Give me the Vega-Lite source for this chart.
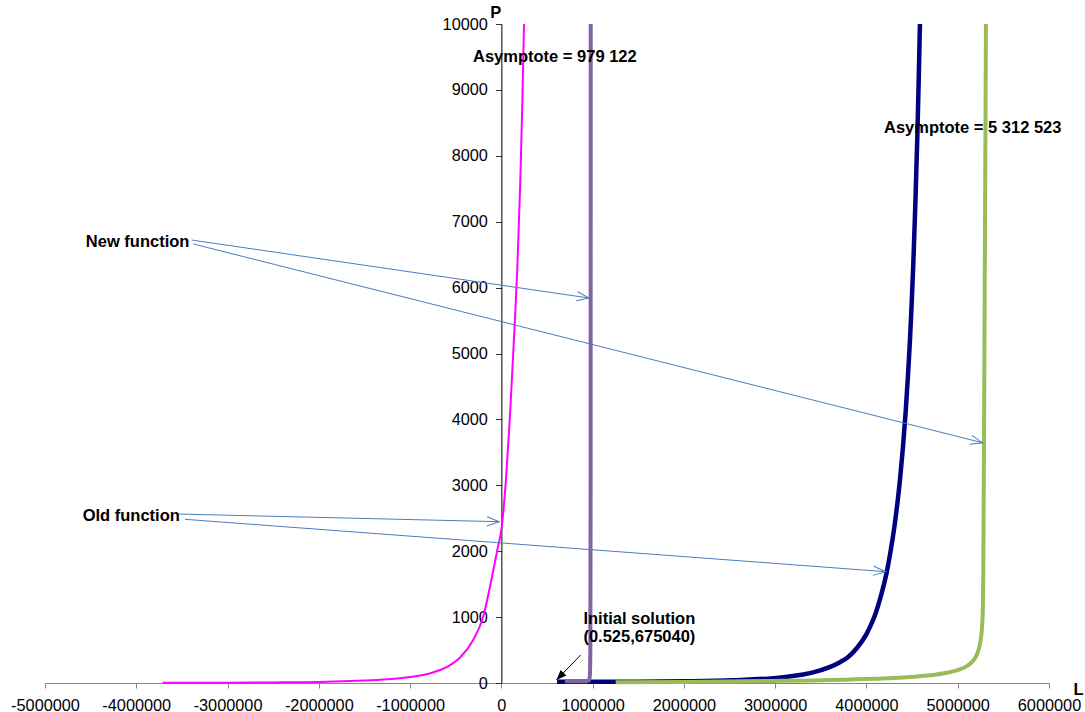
{
  "$schema": "https://vega.github.io/schema/vega-lite/v6.json",
  "width": 1004,
  "height": 659,
  "autosize": {"type": "none"},
  "padding": {"left": 45, "top": 24, "right": 36, "bottom": 29},
  "background": "white",
  "config": {"view": {"stroke": null}, "font": "Liberation Sans"},
  "datasets": {
    "navy": [
      {"L": 610000, "P": 20}, {"L": 1500000, "P": 20}, {"L": 2000000, "P": 25}, {"L": 2540000, "P": 41},
      {"L": 3089000, "P": 89}, {"L": 3417000, "P": 161}, {"L": 3710000, "P": 316}, {"L": 3800000, "P": 395},
      {"L": 3893000, "P": 527}, {"L": 4000000, "P": 742}, {"L": 4050000, "P": 885}, {"L": 4093000, "P": 1028},
      {"L": 4150000, "P": 1280}, {"L": 4222000, "P": 1680}, {"L": 4260000, "P": 1965}, {"L": 4305000, "P": 2360},
      {"L": 4340000, "P": 2740}, {"L": 4367000, "P": 3080}, {"L": 4400000, "P": 3580}, {"L": 4430000, "P": 4120},
      {"L": 4455000, "P": 4670}, {"L": 4477000, "P": 5210}, {"L": 4495000, "P": 5750}, {"L": 4513000, "P": 6350},
      {"L": 4535000, "P": 7240}, {"L": 4557000, "P": 8270}, {"L": 4572000, "P": 9120}, {"L": 4586000, "P": 10000}
    ],
    "green": [
      {"L": 1253000, "P": 10}, {"L": 2000000, "P": 14}, {"L": 2907000, "P": 30}, {"L": 3820000, "P": 55},
      {"L": 4440000, "P": 88}, {"L": 4879000, "P": 155}, {"L": 5098000, "P": 255}, {"L": 5207000, "P": 422},
      {"L": 5255000, "P": 689}, {"L": 5273000, "P": 1021}, {"L": 5280000, "P": 1689}, {"L": 5288000, "P": 3690},
      {"L": 5309000, "P": 10000}
    ],
    "purple": [
      {"L": 697000, "P": 25}, {"L": 930000, "P": 27}, {"L": 960000, "P": 40}, {"L": 970000, "P": 120},
      {"L": 975000, "P": 500}, {"L": 978000, "P": 3000}, {"L": 979122, "P": 10000}
    ],
    "magenta": [
      {"L": -3710000, "P": 2}, {"L": -3000000, "P": 5}, {"L": -2500000, "P": 9}, {"L": -2000000, "P": 16},
      {"L": -1500000, "P": 38}, {"L": -1200000, "P": 60}, {"L": -1000000, "P": 90}, {"L": -800000, "P": 140},
      {"L": -600000, "P": 240}, {"L": -450000, "P": 390}, {"L": -310000, "P": 650}, {"L": -200000, "P": 1000},
      {"L": -110000, "P": 1560}, {"L": -40000, "P": 2050}, {"L": 0, "P": 2330}, {"L": 50000, "P": 3080},
      {"L": 90000, "P": 3950}, {"L": 115000, "P": 4600}, {"L": 148000, "P": 5500}, {"L": 175000, "P": 6300},
      {"L": 205000, "P": 7500}, {"L": 228000, "P": 8700}, {"L": 248000, "P": 10000}
    ],
    "bluearrows": [
      {"L": -3394000, "P": 6722, "L2": 960000, "P2": 5842},
      {"L": -3376000, "P": 6662, "L2": 5273000, "P2": 3645},
      {"L": -3540000, "P": 2564, "L2": -23000, "P2": 2448},
      {"L": -3467000, "P": 2484, "L2": 4211000, "P2": 1689}
    ],
    "blackarrow": [
      {"L": 869000, "P": 425, "L2": 604000, "P2": 46}
    ],
    "labels": [
      {"L": -311000, "P": 9499, "label": "Asymptote = 979 122"},
      {"L": 4192000, "P": 8417, "label": "Asymptote = 5 312 523"},
      {"L": -4553000, "P": 6697, "label": "New function"},
      {"L": -4587000, "P": 2534, "label": "Old function"},
      {"L": 899000, "P": 967, "label": "Initial solution"},
      {"L": 899000, "P": 703, "label": "(0.525,675040)"}
    ]
  },
  "encoding": {
    "x": {
      "field": "L", "type": "quantitative",
      "scale": {"domain": [-5000000, 6000000], "nice": false, "zero": false},
      "axis": {
        "values": [-5000000, -4000000, -3000000, -2000000, -1000000, 0, 1000000, 2000000, 3000000, 4000000, 5000000, 6000000],
        "labelExpr": "'' + datum.value",
        "title": "L", "titleX": 1033, "titleY": 6, "titleAlign": "center", "titleBaseline": "middle", "titleAngle": 0,
        "titleFontSize": 16.5, "titleFontWeight": "bold", "titleFont": "Liberation Sans", "titleColor": "#000",
        "labelFont": "Liberation Sans", "labelFontSize": 16.3, "labelColor": "#000",
        "domainColor": "#868686", "tickColor": "#868686", "tickSize": 5, "labelPadding": 9,
        "grid": false, "labelOverlap": false, "labelFlush": false
      }
    },
    "y": {
      "field": "P", "type": "quantitative",
      "scale": {"domain": [0, 10000], "nice": false},
      "axis": {
        "values": [0, 1000, 2000, 3000, 4000, 5000, 6000, 7000, 8000, 9000, 10000],
        "labelExpr": "'' + datum.value",
        "offset": -456.36,
        "title": "P", "titleX": -6, "titleY": -12, "titleAlign": "center", "titleBaseline": "middle", "titleAngle": 0,
        "titleFontSize": 16.5, "titleFontWeight": "bold", "titleFont": "Liberation Sans", "titleColor": "#000",
        "labelFont": "Liberation Sans", "labelFontSize": 16.3, "labelColor": "#000",
        "domainColor": "#000", "tickColor": "#333", "tickSize": 6, "labelPadding": 8,
        "grid": false, "labelOverlap": false
      }
    }
  },
  "layer": [
    {
      "data": {"name": "navy"},
      "mark": {"type": "line", "color": "#000080", "strokeWidth": 4.5, "interpolate": "monotone"}
    },
    {
      "data": {"name": "green"},
      "mark": {"type": "line", "color": "#9BBB59", "strokeWidth": 4, "interpolate": "monotone"}
    },
    {
      "data": {"name": "purple"},
      "mark": {"type": "line", "color": "#8064A2", "strokeWidth": 4, "interpolate": "monotone"}
    },
    {
      "data": {"name": "magenta"},
      "mark": {"type": "line", "color": "#FF00FF", "strokeWidth": 2, "interpolate": "monotone"}
    },
    {
      "data": {"name": "bluearrows"},
      "mark": {"type": "rule", "color": "#4A7EBB", "strokeWidth": 1},
      "encoding": {
        "x2": {"field": "L2"},
        "y2": {"field": "P2"}
      }
    },
    {
      "data": {"name": "bluearrows"},
      "transform": [
        {"calculate": "atan2(-(datum.P2 - datum.P) * 659 / 10000, (datum.L2 - datum.L) * 1004 / 11000000) * 180 / PI", "as": "angle"}
      ],
      "mark": {"type": "point", "shape": "M-2,-0.75L0,0L-2,0.75", "filled": false, "color": "#4A7EBB", "strokeWidth": 1, "size": 150, "opacity": 1},
      "encoding": {
        "x": {"field": "L2", "type": "quantitative"},
        "y": {"field": "P2", "type": "quantitative"},
        "angle": {"field": "angle", "type": "quantitative", "scale": null}
      }
    },
    {
      "data": {"name": "blackarrow"},
      "mark": {"type": "rule", "color": "#000000", "strokeWidth": 1},
      "encoding": {
        "x2": {"field": "L2"},
        "y2": {"field": "P2"}
      }
    },
    {
      "data": {"name": "blackarrow"},
      "transform": [
        {"calculate": "atan2(-(datum.P2 - datum.P) * 659 / 10000, (datum.L2 - datum.L) * 1004 / 11000000) * 180 / PI", "as": "angle"}
      ],
      "mark": {"type": "point", "shape": "M-2,-0.8L0,0L-2,0.8Z", "filled": true, "color": "#000000", "size": 100, "opacity": 1},
      "encoding": {
        "x": {"field": "L2", "type": "quantitative"},
        "y": {"field": "P2", "type": "quantitative"},
        "angle": {"field": "angle", "type": "quantitative", "scale": null}
      }
    },
    {
      "data": {"name": "labels"},
      "mark": {"type": "text", "align": "left", "baseline": "middle", "fontSize": 16.5, "fontWeight": "bold", "font": "Liberation Sans", "color": "#000"},
      "encoding": {
        "text": {"field": "label"}
      }
    }
  ]
}
